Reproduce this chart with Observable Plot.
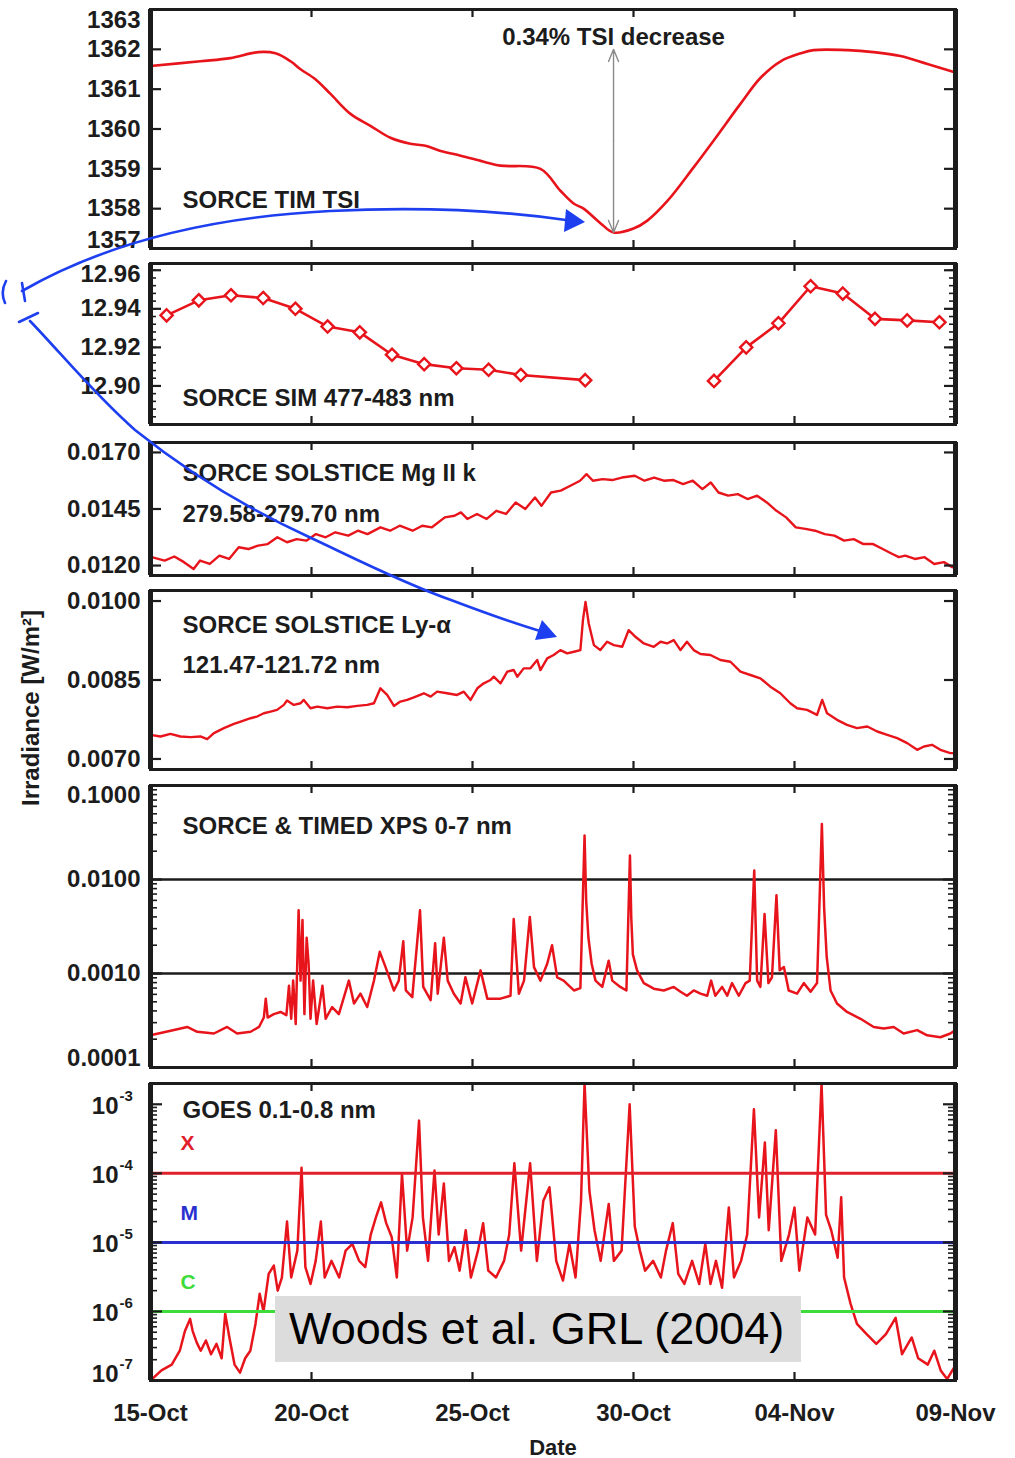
<!DOCTYPE html>
<html><head><meta charset="utf-8">
<script src="https://cdn.jsdelivr.net/npm/d3@7"></script>
<script src="https://cdn.jsdelivr.net/npm/@observablehq/plot@0.6"></script>
<style>
html,body{margin:0;padding:0;background:#fff;}
#wrap{position:relative;width:1015px;height:1458px;overflow:hidden;background:#fff;font-family:"Liberation Sans",Arial,sans-serif;}
.panel{position:absolute;left:0;}
#woods{position:absolute;left:275px;top:1296px;width:526px;height:66px;background:#dcdcdc;font-size:45px;line-height:66px;padding-left:14px;box-sizing:border-box;color:#000;z-index:5;white-space:nowrap;}
#hand{position:absolute;left:0;top:0;z-index:6;pointer-events:none;}
</style></head><body><div id="wrap"></div>
<script>
// ---------- DATA (day offset from 15-Oct-2003, value) ----------
const tickDays = [0, 5, 10, 15, 20, 25];
const tickDates = ["15-Oct", "20-Oct", "25-Oct", "30-Oct", "04-Nov", "09-Nov"];

const tsi = [[0.00,1361.58],[1.55,1361.70],[2.48,1361.78],[3.35,1361.93],[3.88,1361.90],[4.35,1361.70],[4.66,1361.50],[5.12,1361.25],[5.59,1360.88],[6.21,1360.38],[6.83,1360.08],[7.45,1359.78],[8.07,1359.63],[8.54,1359.58],[9.01,1359.45],[9.63,1359.33],[10.25,1359.20],[10.87,1359.08],[12.11,1359.00],[12.73,1358.45],[13.14,1358.13],[13.45,1358.00],[13.98,1357.63],[14.38,1357.40],[15.00,1357.50],[15.43,1357.70],[16.06,1358.20],[16.86,1359.03],[17.48,1359.70],[18.32,1360.63],[18.94,1361.28],[19.57,1361.70],[20.19,1361.90],[20.59,1361.98],[21.65,1361.98],[22.45,1361.93],[23.29,1361.83],[24.13,1361.63],[25.00,1361.42]];
const tsiArrow = {day: 14.38, min: 1357.40, max: 1362.0, mid: 1359.7, labelY: 1362.3};
const tsiNote = "0.34% TSI decrease";

const sim = [[0.5,12.9366],[1.5,12.9444],[2.5,12.947],[3.5,12.9456],[4.5,12.940],[5.5,12.9308],[6.5,12.9278],[7.5,12.9162],[8.5,12.9113],[9.5,12.9092],[10.5,12.9084],[11.5,12.9057],[13.5,12.903],[17.5,12.9026],[18.5,12.920],[19.5,12.9325],[20.5,12.9517],[21.5,12.9479],[22.5,12.9348],[23.5,12.934],[24.5,12.933]];

const mg2 = [[0.04,0.01237],[0.44,0.01222],[0.74,0.01240],[1.04,0.01215],[1.34,0.01185],[1.54,0.01222],[1.84,0.01207],[2.14,0.01244],[2.44,0.01229],[2.74,0.01281],[3.04,0.01273],[3.34,0.01288],[3.64,0.01295],[3.94,0.01325],[4.24,0.01303],[4.54,0.01317],[4.84,0.01310],[5.14,0.01339],[5.44,0.01325],[5.74,0.01347],[6.14,0.01332],[6.44,0.01354],[6.74,0.01339],[7.14,0.01369],[7.44,0.01354],[7.74,0.01376],[8.14,0.01354],[8.44,0.01376],[8.74,0.01369],[9.14,0.01413],[9.44,0.01420],[9.64,0.01435],[9.84,0.01406],[10.14,0.01428],[10.44,0.01406],[10.74,0.01442],[11.04,0.01428],[11.34,0.01479],[11.64,0.01450],[11.94,0.01501],[12.14,0.01464],[12.44,0.01523],[12.74,0.01531],[13.04,0.01553],[13.34,0.01575],[13.54,0.01604],[13.74,0.01575],[14.04,0.01582],[14.34,0.01578],[14.64,0.01589],[15.04,0.01597],[15.34,0.01575],[15.64,0.01589],[15.94,0.01575],[16.24,0.01578],[16.54,0.01560],[16.84,0.01575],[17.14,0.01538],[17.40,0.01567],[17.64,0.01523],[17.94,0.01509],[18.24,0.01516],[18.54,0.01494],[18.84,0.01509],[19.14,0.01479],[19.44,0.01442],[19.74,0.01413],[20.04,0.01369],[20.34,0.01362],[20.64,0.01354],[20.94,0.01339],[21.24,0.01332],[21.54,0.01310],[21.84,0.01317],[22.14,0.01295],[22.44,0.01295],[22.74,0.01273],[23.04,0.01251],[23.24,0.01237],[23.44,0.01244],[23.74,0.01229],[24.04,0.01237],[24.34,0.01207],[24.64,0.01215],[24.90,0.01193]];

const lya = [[0.00,0.007458],[0.31,0.007427],[0.62,0.007477],[0.93,0.007427],[1.24,0.007414],[1.55,0.007427],[1.76,0.007376],[1.97,0.007490],[2.28,0.007585],[2.59,0.007667],[2.80,0.007711],[3.11,0.007774],[3.31,0.007806],[3.52,0.007869],[3.73,0.007900],[3.93,0.007932],[4.14,0.008027],[4.24,0.008109],[4.45,0.008027],[4.66,0.008058],[4.76,0.008121],[4.97,0.007964],[5.18,0.007995],[5.49,0.007964],[5.80,0.007995],[6.11,0.007983],[6.42,0.008008],[6.73,0.008027],[6.94,0.008058],[7.14,0.008342],[7.35,0.008216],[7.56,0.008008],[7.76,0.008090],[7.97,0.008121],[8.18,0.008172],[8.49,0.008248],[8.70,0.008184],[8.90,0.008279],[9.21,0.008248],[9.52,0.008216],[9.73,0.008279],[9.94,0.008121],[10.15,0.008342],[10.35,0.008437],[10.56,0.008500],[10.66,0.008563],[10.87,0.008437],[11.08,0.008658],[11.28,0.008690],[11.39,0.008563],[11.59,0.008721],[11.80,0.008721],[12.01,0.008879],[12.11,0.008689],[12.32,0.008910],[12.52,0.008974],[12.73,0.009068],[12.94,0.009005],[13.15,0.009037],[13.35,0.009068],[13.43,0.009636],[13.51,0.009984],[13.61,0.009573],[13.77,0.009163],[13.97,0.009068],[14.18,0.009226],[14.39,0.009163],[14.65,0.009131],[14.85,0.009447],[15.06,0.009321],[15.32,0.009194],[15.63,0.009131],[15.84,0.009226],[16.04,0.009194],[16.25,0.009258],[16.46,0.009068],[16.66,0.009226],[16.87,0.009068],[17.08,0.008993],[17.39,0.008974],[17.70,0.008879],[18.01,0.008847],[18.32,0.008658],[18.63,0.008595],[18.94,0.008532],[19.25,0.008374],[19.56,0.008248],[19.87,0.008058],[20.08,0.007964],[20.39,0.007932],[20.70,0.007837],[20.86,0.008121],[21.01,0.007869],[21.32,0.007743],[21.63,0.007648],[21.94,0.007585],[22.26,0.007616],[22.57,0.007522],[22.88,0.007458],[23.19,0.007395],[23.50,0.007301],[23.81,0.007174],[24.02,0.007237],[24.27,0.007269],[24.53,0.007174],[24.84,0.007111],[25.00,0.007111]];

const xps = [[0.00,2.2e-4],[0.73,2.5e-4],[1.14,2.7e-4],[1.45,2.4e-4],[1.97,2.3e-4],[2.38,2.7e-4],[2.69,2.3e-4],[3.11,2.4e-4],[3.37,2.7e-4],[3.52,3.4e-4],[3.58,5.4e-4],[3.64,3.4e-4],[3.83,3.7e-4],[4.04,3.9e-4],[4.22,3.6e-4],[4.30,7.4e-4],[4.37,3.3e-4],[4.43,8.4e-4],[4.51,2.9e-4],[4.60,4.7e-3],[4.66,8.4e-4],[4.72,3.7e-3],[4.78,3.7e-4],[4.85,2.4e-3],[4.91,1.27e-3],[4.97,3.3e-4],[5.05,8.4e-4],[5.16,2.9e-4],[5.34,7.4e-4],[5.44,3.3e-4],[5.64,4.4e-4],[5.85,3.7e-4],[6.16,8.4e-4],[6.32,4.8e-4],[6.52,6.1e-4],[6.73,4.4e-4],[6.94,8.4e-4],[7.12,1.7e-3],[7.30,1.17e-3],[7.56,6.6e-4],[7.71,8.4e-4],[7.85,2.2e-3],[7.93,6.6e-4],[8.13,5.6e-4],[8.37,4.7e-3],[8.47,7.2e-4],[8.70,5.2e-4],[8.84,2.1e-3],[8.92,6.1e-4],[9.11,2.4e-3],[9.23,8.4e-4],[9.42,6.1e-4],[9.63,4.8e-4],[9.78,9.1e-4],[9.99,4.8e-4],[10.25,1.08e-3],[10.46,5.4e-4],[10.87,5.4e-4],[11.18,5.8e-4],[11.28,3.8e-3],[11.44,6.1e-4],[11.60,8.4e-4],[11.78,4.0e-3],[11.91,1.17e-3],[12.11,8.4e-4],[12.32,1.27e-3],[12.47,2.0e-3],[12.63,9.1e-4],[12.83,8.4e-4],[13.15,6.6e-4],[13.35,7.0e-4],[13.48,2.94e-2],[13.53,6.0e-3],[13.60,2.4e-3],[13.70,1.27e-3],[13.82,8.4e-4],[14.03,7.2e-4],[14.23,1.37e-3],[14.34,8.4e-4],[14.59,7.2e-4],[14.78,6.6e-4],[14.89,1.8e-2],[14.93,4.0e-3],[14.98,1.6e-3],[15.11,1.08e-3],[15.32,7.9e-4],[15.63,6.9e-4],[15.94,6.6e-4],[16.25,7.2e-4],[16.46,6.4e-4],[16.66,5.8e-4],[16.87,6.6e-4],[17.08,6.1e-4],[17.29,5.8e-4],[17.41,8.4e-4],[17.54,5.8e-4],[17.75,7.2e-4],[17.91,5.8e-4],[18.06,7.9e-4],[18.27,5.8e-4],[18.48,7.9e-4],[18.61,8.4e-4],[18.75,1.25e-2],[18.84,8.4e-4],[18.94,7.2e-4],[19.07,4.3e-3],[19.19,7.9e-4],[19.30,9.1e-4],[19.44,6.8e-3],[19.54,1.08e-3],[19.67,1.17e-3],[19.82,6.6e-4],[20.08,6.1e-4],[20.29,7.9e-4],[20.50,6.4e-4],[20.70,7.9e-4],[20.85,3.9e-2],[20.92,5.0e-3],[21.00,1.5e-3],[21.12,6.6e-4],[21.32,4.8e-4],[21.63,3.9e-4],[22.05,3.3e-4],[22.46,2.7e-4],[22.77,2.6e-4],[23.08,2.7e-4],[23.39,2.3e-4],[23.81,2.5e-4],[24.12,2.2e-4],[24.53,2.1e-4],[24.84,2.3e-4],[25.00,2.5e-4]];

const goes = [[0.00,1.0e-7],[0.34,1.4e-7],[0.66,1.7e-7],[0.91,2.7e-7],[1.07,5.2e-7],[1.23,7.8e-7],[1.31,5.2e-7],[1.44,3.5e-7],[1.56,2.7e-7],[1.72,3.8e-7],[1.88,2.4e-7],[2.05,3.4e-7],[2.21,2.1e-7],[2.32,9.3e-7],[2.45,4.2e-7],[2.61,1.7e-7],[2.78,1.3e-7],[2.94,2.1e-7],[3.10,2.7e-7],[3.26,6.6e-7],[3.39,1.8e-6],[3.51,1.0e-6],[3.67,3.5e-6],[3.83,4.6e-6],[3.95,2.0e-6],[4.08,3.1e-6],[4.24,2.0e-5],[4.37,3.1e-6],[4.56,7.6e-6],[4.69,1.2e-4],[4.81,4.4e-6],[4.97,2.5e-6],[5.13,5.4e-6],[5.29,2.0e-5],[5.41,3.1e-6],[5.62,5.4e-6],[5.86,3.1e-6],[6.06,7.6e-6],[6.27,9.5e-6],[6.48,5.4e-6],[6.67,4.4e-6],[6.84,1.3e-5],[7.00,2.3e-5],[7.16,3.8e-5],[7.32,1.9e-5],[7.49,1.2e-5],[7.65,3.1e-6],[7.81,9.8e-5],[7.97,7.6e-6],[8.14,2.3e-5],[8.34,5.8e-4],[8.46,2.3e-5],[8.62,5.4e-6],[8.82,1.1e-4],[8.95,1.3e-5],[9.11,7.1e-5],[9.27,5.4e-6],[9.44,8.5e-6],[9.60,3.9e-6],[9.79,1.5e-5],[9.95,3.1e-6],[10.17,7.6e-6],[10.33,1.9e-5],[10.49,3.9e-6],[10.73,3.1e-6],[10.98,5.4e-6],[11.14,1.3e-5],[11.30,1.4e-4],[11.51,7.6e-6],[11.79,1.4e-4],[12.00,5.4e-6],[12.20,4.0e-5],[12.39,6.3e-5],[12.60,5.4e-6],[12.81,2.8e-6],[13.01,9.5e-6],[13.20,3.1e-6],[13.37,4.0e-5],[13.48,2.0e-3],[13.63,5.6e-5],[13.79,1.5e-5],[13.98,5.4e-6],[14.23,3.6e-5],[14.39,5.4e-6],[14.63,7.6e-6],[14.88,1.0e-3],[15.04,1.7e-5],[15.20,7.6e-6],[15.36,3.9e-6],[15.61,5.4e-6],[15.85,3.1e-6],[16.01,7.6e-6],[16.22,1.9e-5],[16.39,3.5e-6],[16.58,2.5e-6],[16.82,5.4e-6],[17.04,2.5e-6],[17.23,9.5e-6],[17.39,2.5e-6],[17.56,5.4e-6],[17.75,2.2e-6],[17.96,3.2e-5],[18.12,3.1e-6],[18.34,5.4e-6],[18.53,1.3e-5],[18.74,8.5e-4],[18.90,2.3e-5],[19.08,2.8e-4],[19.20,1.5e-5],[19.42,4.2e-4],[19.59,5.4e-6],[19.83,1.3e-5],[20.00,3.2e-5],[20.15,3.9e-6],[20.40,2.3e-5],[20.64,1.3e-5],[20.84,2.0e-3],[20.98,2.5e-5],[21.14,1.5e-5],[21.34,6.0e-6],[21.45,4.5e-5],[21.54,3.1e-6],[21.74,1.3e-6],[21.94,6.6e-7],[22.24,4.7e-7],[22.54,3.4e-7],[22.84,4.7e-7],[23.14,8.1e-7],[23.34,2.4e-7],[23.64,4.2e-7],[23.84,2.1e-7],[24.14,1.7e-7],[24.34,2.7e-7],[24.54,1.4e-7],[24.74,1.05e-7],[24.94,1.5e-7],[25.00,1.3e-7]];

const goesClasses = [{name: "X", level: 1e-4, color: "#e0202a"}, {name: "M", level: 1e-5, color: "#2a2fd0"}, {name: "C", level: 1e-6, color: "#3edc3a"}];
const xpsGrid = [1e-2, 1e-3];

// ---------- helpers ----------
const t0 = Date.UTC(2003, 9, 15);
const D = d => new Date(t0 + d * 864e5);
const RED = "#e8141c";
const INK = "#1c1c1c";
const FW = 805; // frame width in px
const FS = 24;
const FONT = "'Liberation Sans', Arial, Helvetica, sans-serif";
const wrap = document.getElementById("wrap");

function logTicks(lo, hi) { // minor ticks for log axes
  const out = [];
  for (let e = Math.floor(Math.log10(lo)); e <= Math.ceil(Math.log10(hi)); e++)
    for (let k = 2; k <= 9; k++) { const v = k * Math.pow(10, e); if (v > lo && v < hi) out.push(v); }
  return out;
}

function yLabelMarks(vals, fmt, nudge = {}) {
  return vals.map(v => Plot.text([v], {y: d => d, text: fmt, frameAnchor: "left", dx: -10, dy: nudge[v] || 0,
    textAnchor: "end", fontSize: FS, fontWeight: "bold", fill: INK}));
}

function panelLabel(text, dy, extra = {}) {
  return Plot.text([text], {frameAnchor: "top-left", dx: 32, dy, textAnchor: "start", lineAnchor: "middle",
    fontSize: FS, fontWeight: "bold", fill: INK, ...extra});
}

function panel({frameTop, h, mt = 12, mb = 12, y, major, minor = [], majorLen = 11, minorLen = 6, marks}) {
  const svg = Plot.plot({
    width: 1015, height: mt + h + mb,
    marginLeft: 150, marginRight: 60, marginTop: mt, marginBottom: mb,
    x: {type: "utc", domain: [D(0), D(25)], axis: null},
    y: {...y, axis: null},
    style: {fontFamily: FONT, background: "transparent", overflow: "visible"},
    marks: [
      ...marks,
      Plot.tickY(minor, {y: d => d, insetRight: FW - minorLen, stroke: INK, strokeWidth: 1.6}),
      Plot.tickY(minor, {y: d => d, insetLeft: FW - minorLen, stroke: INK, strokeWidth: 1.6}),
      Plot.tickY(major, {y: d => d, insetRight: FW - majorLen, stroke: INK, strokeWidth: 2.2}),
      Plot.tickY(major, {y: d => d, insetLeft: FW - majorLen, stroke: INK, strokeWidth: 2.2}),
      Plot.tickX(tickDays, {x: d => D(d), insetBottom: h - 8, stroke: INK, strokeWidth: 2.2}),
      Plot.tickX(tickDays, {x: d => D(d), insetTop: h - 8, stroke: INK, strokeWidth: 2.2}),
      Plot.frame({stroke: INK, strokeWidth: 3}),
      Plot.ruleX([D(0), D(25)], {stroke: INK, strokeWidth: 5})
    ]
  });
  const div = document.createElement("div");
  div.className = "panel";
  div.style.top = (frameTop - mt) + "px";
  div.appendChild(svg);
  wrap.appendChild(div);
}

// ---------- Panel 1: TIM TSI ----------
panel({frameTop: 9, mt: 9, h: 239, y: {domain: [1357, 1363]},
  major: d3.range(1357, 1364),
  marks: [
    Plot.line(tsi, {x: d => D(d[0]), y: d => d[1], stroke: RED, strokeWidth: 2.6, curve: "catmull-rom"}),
    Plot.arrow([tsiArrow], {x1: d => D(d.day), x2: d => D(d.day), y1: d => d.mid, y2: d => d.max, stroke: "#8a8a8a", strokeWidth: 1.4, headLength: 14, headAngle: 45}),
    Plot.arrow([tsiArrow], {x1: d => D(d.day), x2: d => D(d.day), y1: d => d.mid, y2: d => d.min, stroke: "#8a8a8a", strokeWidth: 1.4, headLength: 14, headAngle: 45}),
    Plot.text([tsiArrow], {x: d => D(d.day), y: d => d.labelY, text: () => tsiNote, fontSize: FS, fontWeight: "bold", fill: INK}),
    panelLabel("SORCE TIM TSI", 191),
    ...yLabelMarks(d3.range(1357, 1364), d => String(d), {1363: 11, 1357: -8})
  ]});

// ---------- Panel 2: SIM ----------
panel({frameTop: 263, h: 161, y: {domain: [12.88, 12.9635]},
  major: [12.88, 12.90, 12.92, 12.94, 12.96], minor: d3.range(12.884, 12.962, 0.004),
  marks: [
    Plot.line(sim, {x: d => D(d[0]), y: d => d[1], z: d => d[0] < 15 ? "a" : "b", stroke: RED, strokeWidth: 2.6}),
    Plot.dot(sim, {x: d => D(d[0]), y: d => d[1], symbol: "diamond2", r: 5.5, stroke: RED, fill: "white", strokeWidth: 2.4}),
    panelLabel("SORCE SIM 477-483 nm", 135),
    ...yLabelMarks([12.90, 12.92, 12.94, 12.96], d => d.toFixed(2), {12.96: 4})
  ]});

// ---------- Panel 3: Mg II k ----------
panel({frameTop: 442, h: 133, y: {domain: [0.01156, 0.01744]},
  major: [0.0120, 0.0145, 0.0170],
  marks: [
    Plot.line(mg2, {x: d => D(d[0]), y: d => d[1], stroke: RED, strokeWidth: 2.4}),
    panelLabel("SORCE SOLSTICE Mg II k", 31),
    panelLabel("279.58-279.70 nm", 72),
    ...yLabelMarks([0.0120, 0.0145, 0.0170], d => d.toFixed(4))
  ]});

// ---------- Panel 4: Ly-alpha ----------
panel({frameTop: 590, h: 179, y: {domain: [0.0068, 0.0102]},
  major: [0.0070, 0.0085, 0.0100],
  marks: [
    Plot.line(lya, {x: d => D(d[0]), y: d => d[1], stroke: RED, strokeWidth: 2.4}),
    panelLabel("SORCE SOLSTICE Ly-α", 35),
    panelLabel("121.47-121.72 nm", 75),
    ...yLabelMarks([0.0070, 0.0085, 0.0100], d => d.toFixed(4)),
    Plot.text(["Irradiance [W/m²]"], {frameAnchor: "left", textAnchor: "middle", dx: -119, dy: 28, rotate: -90, fontSize: 24, fontWeight: "bold", fill: INK})
  ]});

// ---------- Panel 5: XPS ----------
panel({frameTop: 785, h: 282, y: {type: "log", domain: [1e-4, 1e-1]},
  major: [1e-4, 1e-3, 1e-2, 1e-1], minor: logTicks(1e-4, 1e-1), majorLen: 12, minorLen: 7,
  marks: [
    Plot.ruleY(xpsGrid, {stroke: INK, strokeWidth: 2.6}),
    Plot.line(xps, {x: d => D(d[0]), y: d => d[1], stroke: RED, strokeWidth: 2.5, clip: true}),
    panelLabel("SORCE & TIMED XPS 0-7 nm", 41),
    ...yLabelMarks([1e-4, 1e-3, 1e-2, 1e-1], d => d.toFixed(4), {0.1: 10, 0.0001: -9})
  ]});

// ---------- Panel 6: GOES ----------
const goesMajor = [1e-7, 1e-6, 1e-5, 1e-4, 1e-3];
panel({frameTop: 1083, h: 297, mb: 78, y: {type: "log", domain: [1e-7, 2e-3]},
  major: goesMajor, minor: logTicks(1e-7, 2e-3), majorLen: 12, minorLen: 7,
  marks: [
    Plot.line(goes, {x: d => D(d[0]), y: d => d[1], stroke: RED, strokeWidth: 2.5, clip: true}),
    Plot.ruleY(goesClasses, {y: "level", stroke: "color", strokeWidth: 3}),
    panelLabel("GOES 0.1-0.8 nm", 27),
    ...goesClasses.map((c, i) => panelLabel(c.name, [60, 130, 199][i], {fill: c.color, fontSize: 21, dx: 30})),
    ...goesMajor.map(v => Plot.text([v], {y: d => d, text: () => "10", frameAnchor: "left", dx: -32, dy: v === 1e-7 ? -6 : 2, textAnchor: "end", fontSize: FS, fontWeight: "bold", fill: INK})),
    ...goesMajor.map(v => Plot.text([v], {y: d => d, text: d => "-" + Math.round(-Math.log10(d)), frameAnchor: "left", dx: -31, dy: v === 1e-7 ? -16 : -8, textAnchor: "start", fontSize: 15, fontWeight: "bold", fill: INK})),
    Plot.text(tickDays, {x: d => D(d), text: (d, i) => tickDates[i], frameAnchor: "bottom", dy: 40, fontSize: FS, fontWeight: "bold", fill: INK}),
    Plot.text(["Date"], {frameAnchor: "bottom", dy: 74, fontSize: 22, fontWeight: "bold", fill: INK})
  ]});

// ---------- Citation box ----------
const woods = document.createElement("div");
woods.id = "woods";
woods.textContent = "Woods et al. GRL (2004)";
wrap.appendChild(woods);

// ---------- Hand-drawn blue annotation (overlay) ----------
const handStrokes = [
  "M 22,291 C 90,252 190,218 330,211 C 430,206 510,212 566,220",
  "M 30,321 C 60,352 95,395 135,430 C 190,474 250,510 309,537 C 350,556 400,582 451,600 C 480,611 510,622 540,631",
  "M 6,281 Q 0,292 5,303",
  "M 22,283 L 25,301",
  "M 19,322 L 38,313"
];
const handHeads = ["585,222 564,232 566,209", "557,637 535,640 542,620"];
const hand = d3.select(wrap).append("svg").attr("id", "hand").attr("width", 1015).attr("height", 1458);
hand.selectAll("path").data(handStrokes).join("path").attr("d", d => d)
  .attr("fill", "none").attr("stroke", "#1d3ff0").attr("stroke-width", 2.6).attr("stroke-linecap", "round");
hand.selectAll("polygon").data(handHeads).join("polygon").attr("points", d => d).attr("fill", "#1d3ff0");
</script></body></html>
